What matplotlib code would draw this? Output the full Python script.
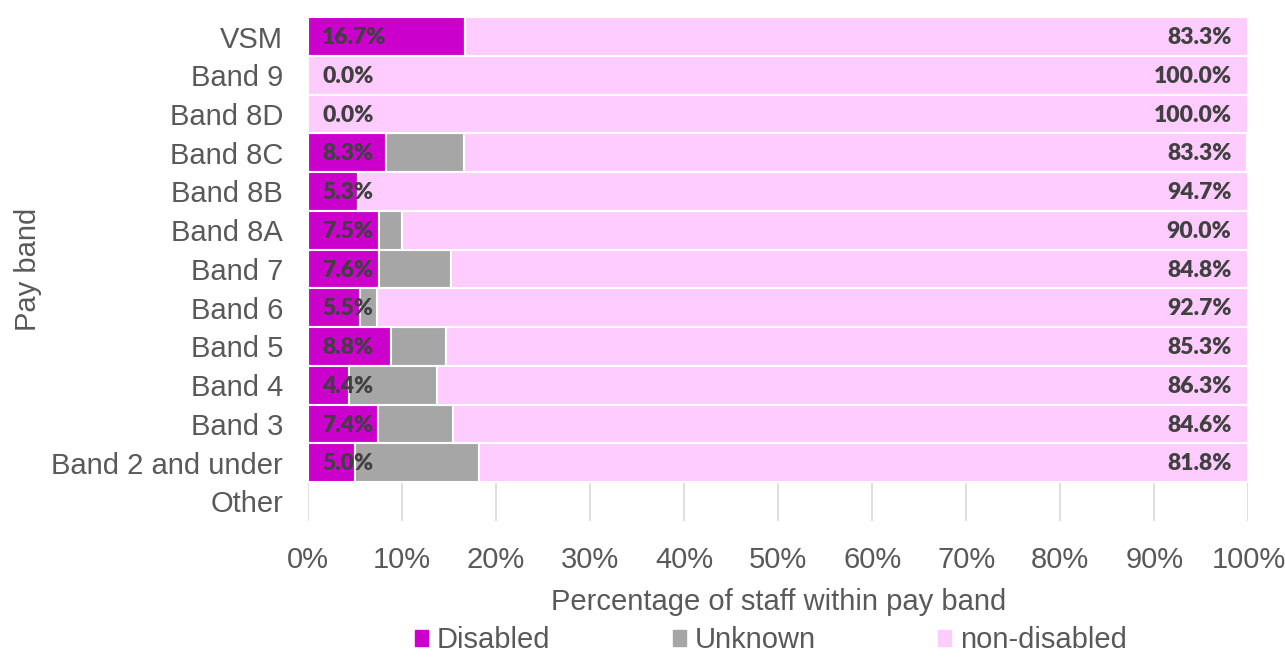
import numpy as np
import matplotlib.pyplot as plt
from matplotlib.patches import Patch

bands = ['VSM', 'Band 9', 'Band 8D', 'Band 8C', 'Band 8B', 'Band 8A', 'Band 7',
         'Band 6', 'Band 5', 'Band 4', 'Band 3', 'Band 2 and under', 'Other']
disabled = [16.7, 0.0, 0.0, 8.3, 5.3, 7.5, 7.6, 5.5, 8.8, 4.4, 7.4, 5.0, None]
unknown = [0.0, 0.0, 0.0, 8.3, 0.0, 2.5, 7.6, 1.8, 5.9, 9.3, 8.0, 13.2, None]
non_disabled = [83.3, 100.0, 100.0, 83.3, 94.7, 90.0, 84.8, 92.7, 85.3, 86.3, 84.6, 81.8, None]

c_dis = '#cc00cc'
c_unk = '#a6a6a6'
c_non = '#ffccff'
txt = '#595959'

fig = plt.figure(figsize=(12.85, 6.6), dpi=100)
ax = fig.add_axes([0.2397, 0.211, 0.7318, 0.763])

y = np.arange(len(bands))
rows = [i for i in range(len(bands)) if disabled[i] is not None]
d = np.array([disabled[i] for i in rows])
u = np.array([unknown[i] for i in rows])
n = np.array([non_disabled[i] for i in rows])
yr = y[rows]

kw = dict(height=1.0, edgecolor='white', linewidth=1.5, zorder=2)
ax.barh(yr, d, color=c_dis, **kw)
ax.barh(yr, u, left=d, color=c_unk, **kw)
ax.barh(yr, n, left=d + u, color=c_non, **kw)

lab = dict(fontfamily='Lato', fontweight='heavy', fontsize=16.5, color='#404040',
           va='center', zorder=3)
for yi, dv, nv in zip(yr, d, n):
    ax.text(1.5, yi + 0.03, f'{dv:.1f}%', ha='left', **lab)
    ax.text(98.2, yi + 0.03, f'{nv:.1f}%', ha='right', **lab)

ax.set_xlim(0, 100)
ax.set_ylim(len(bands) - 0.5, -0.5)
ax.set_yticks(y)
ax.set_yticklabels(bands)
ax.set_xticks(np.arange(0, 101, 10))
ax.set_xticklabels([f'{v}%' for v in range(0, 101, 10)])
ax.tick_params(axis='both', length=0, labelsize=21, labelcolor=txt)
ax.tick_params(axis='x', pad=18)
ax.tick_params(axis='y', pad=18)
for lbl in ax.get_xticklabels() + ax.get_yticklabels():
    lbl.set_fontfamily('Liberation Sans')

ax.grid(axis='x', color='#d9d9d9', linewidth=1.2, zorder=0)
ax.set_axisbelow(True)
for s in ax.spines.values():
    s.set_visible(False)

ax.set_xlabel('Percentage of staff within pay band', fontsize=21, color=txt,
              fontfamily='Liberation Sans', labelpad=10)
ax.set_ylabel('Pay band', fontsize=21, color=txt, fontfamily='Liberation Sans',
              labelpad=7)

handles = [Patch(color=c_dis, label='Disabled'),
           Patch(color=c_unk, label='Unknown'),
           Patch(color=c_non, label='non-disabled')]
leg = fig.legend(handles=handles, loc='center', bbox_to_anchor=(0.6, 0.03),
                 ncol=3, frameon=False, handlelength=0.45, handleheight=0.45,
                 handletextpad=0.3, columnspacing=4.2,
                 prop={'family': 'Liberation Sans', 'size': 21})
for t in leg.get_texts():
    t.set_color(txt)

fig.savefig('out.png', dpi=100)
